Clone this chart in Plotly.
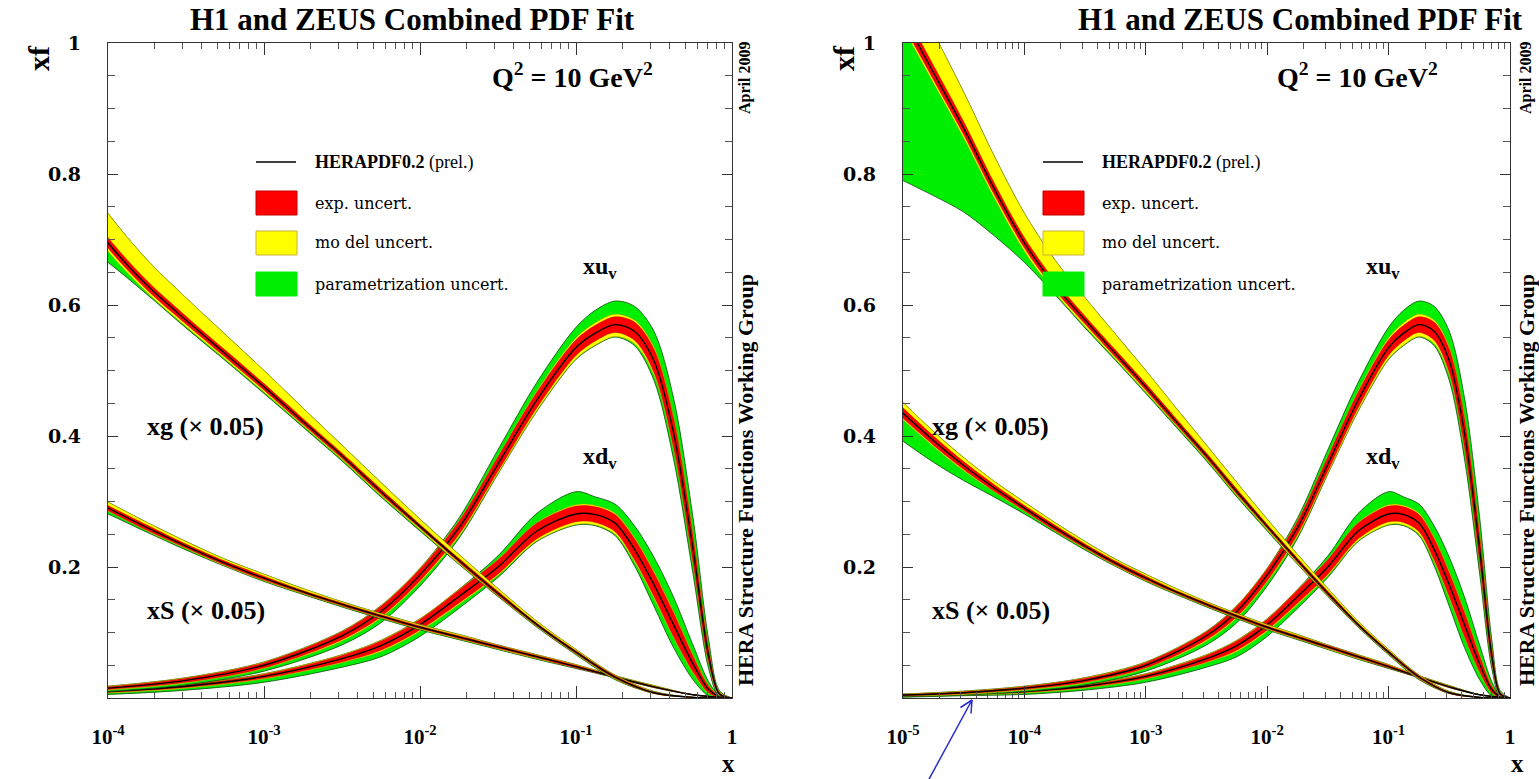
import plotly.graph_objects as go

# ---------------- data ----------------
# valence grid
XV = [1e-5, 3.16e-5, 1e-4, 3.16e-4, 1e-3, 3.16e-3, 5.62e-3, 1e-2, 1.78e-2, 3.16e-2,
      5.62e-2, 0.1, 0.133, 0.178, 0.237, 0.316, 0.422, 0.562, 0.708, 0.832, 1.0]

XUV_CEN = [0.0045, 0.008, 0.015, 0.027, 0.05, 0.095, 0.132, 0.188, 0.26, 0.357,
           0.455, 0.535, 0.557, 0.57, 0.56, 0.515, 0.405, 0.228, 0.065, 0.006, 0.0]
XUV_EXP = [0.001, 0.0015, 0.002, 0.003, 0.004, 0.006, 0.008, 0.009, 0.01, 0.011,
           0.012, 0.012, 0.012, 0.012, 0.014, 0.018, 0.022, 0.02, 0.01, 0.002, 0.0]
XUV_MOD_UP = [0.0005, 0.001, 0.001, 0.001, 0.001, 0.001, 0.001, 0.001, 0.001, 0.001,
              0.002, 0.003, 0.004, 0.004, 0.003, 0.003, 0.003, 0.003, 0.002, 0.001, 0.0]
XUV_MOD_DN = [0.0005, 0.001, 0.001, 0.001, 0.001, 0.002, 0.002, 0.002, 0.003, 0.003,
              0.004, 0.005, 0.006, 0.006, 0.005, 0.004, 0.004, 0.003, 0.002, 0.001, 0.0]
XUV_PAR_UP = [0.0, 0.0, 0.0, 0.0, 0.0, 0.0, 0.0, 0.0, 0.004, 0.01,
              0.013, 0.016, 0.019, 0.02, 0.021, 0.024, 0.028, 0.025, 0.012, 0.002, 0.0]
XUV_PAR_DN = [0.001, 0.001, 0.002, 0.003, 0.004, 0.006, 0.007, 0.006, 0.003, 0.001,
              0.001, 0.001, 0.001, 0.001, 0.003, 0.008, 0.014, 0.015, 0.008, 0.002, 0.0]

XDV_CEN = [0.003, 0.006, 0.01, 0.018, 0.033, 0.06, 0.08, 0.112, 0.155, 0.2,
           0.255, 0.281, 0.28, 0.267, 0.227, 0.173, 0.112, 0.052, 0.013, 0.002, 0.0]
XDV_EXP = [0.0008, 0.001, 0.0015, 0.002, 0.003, 0.005, 0.007, 0.008, 0.01, 0.011,
           0.012, 0.012, 0.012, 0.013, 0.016, 0.018, 0.018, 0.012, 0.005, 0.001, 0.0]
XDV_MOD_UP = [0.0005, 0.0005, 0.001, 0.001, 0.001, 0.001, 0.001, 0.001, 0.001, 0.001,
              0.001, 0.002, 0.002, 0.002, 0.002, 0.002, 0.002, 0.002, 0.001, 0.0, 0.0]
XDV_MOD_DN = [0.0005, 0.0005, 0.001, 0.001, 0.001, 0.001, 0.002, 0.002, 0.002, 0.002,
              0.003, 0.004, 0.004, 0.004, 0.003, 0.003, 0.002, 0.002, 0.001, 0.0, 0.0]
XDV_PAR_UP = [0.0, 0.0, 0.0, 0.0, 0.0, 0.0, 0.0, 0.0, 0.0, 0.005,
              0.014, 0.02, 0.013, 0.014, 0.018, 0.022, 0.022, 0.015, 0.006, 0.001, 0.0]
XDV_PAR_DN = [0.0005, 0.001, 0.002, 0.003, 0.005, 0.007, 0.008, 0.008, 0.006, 0.003,
              0.001, 0.001, 0.001, 0.002, 0.006, 0.012, 0.015, 0.01, 0.004, 0.001, 0.0]

# gluon and sea (x 0.05), quarter-decade grid
XGS = [1e-5, 1.78e-5, 3.16e-5, 5.62e-5, 1e-4, 1.78e-4, 3.16e-4, 5.62e-4, 1e-3, 1.78e-3,
       3.16e-3, 5.62e-3, 1e-2, 1.78e-2, 3.16e-2, 5.62e-2, 0.1, 0.178, 0.316, 0.562, 1.0]

XG_CEN = [1.04, 0.955, 0.87, 0.778, 0.695, 0.63, 0.577, 0.526, 0.475, 0.422,
          0.37, 0.315, 0.262, 0.21, 0.16, 0.112, 0.07, 0.032, 0.008, 0.001, 0.0]
XG_EXP = [0.012, 0.011, 0.01, 0.009, 0.008, 0.007, 0.006, 0.0055, 0.005, 0.0045,
          0.004, 0.004, 0.003, 0.003, 0.003, 0.002, 0.002, 0.002, 0.001, 0.0, 0.0]
XG_MOD_UP = [0.055, 0.05, 0.045, 0.041, 0.037, 0.032, 0.028, 0.024, 0.02, 0.016,
             0.012, 0.01, 0.008, 0.006, 0.004, 0.003, 0.002, 0.001, 0.001, 0.0, 0.0]
XG_MOD_DN = [0.005, 0.005, 0.005, 0.005, 0.005, 0.004, 0.004, 0.003, 0.003, 0.002,
             0.002, 0.002, 0.002, 0.002, 0.001, 0.001, 0.001, 0.001, 0.0, 0.0, 0.0]
XG_PAR_UP = [0.0] * 21
XG_PAR_DN = [0.233, 0.172, 0.113, 0.058, 0.017, 0.003, 0.002, 0.002, 0.002, 0.002,
             0.002, 0.002, 0.002, 0.001, 0.001, 0.001, 0.001, 0.001, 0.0, 0.0, 0.0]

XS_CEN = [0.435, 0.393, 0.355, 0.321, 0.29, 0.26, 0.232, 0.206, 0.183, 0.162,
          0.143, 0.125, 0.108, 0.093, 0.078, 0.063, 0.048, 0.032, 0.017, 0.005, 0.0]
XS_EXP = [0.008, 0.007, 0.006, 0.005, 0.004, 0.004, 0.003, 0.003, 0.003, 0.002,
          0.002, 0.002, 0.002, 0.002, 0.002, 0.002, 0.002, 0.001, 0.001, 0.0, 0.0]
XS_MOD_UP = [0.008, 0.007, 0.006, 0.005, 0.005, 0.004, 0.004, 0.003, 0.003, 0.003,
             0.002, 0.002, 0.002, 0.002, 0.001, 0.001, 0.001, 0.001, 0.001, 0.0, 0.0]
XS_MOD_DN = [0.002, 0.002, 0.002, 0.001, 0.001, 0.001, 0.001, 0.001, 0.001, 0.001,
             0.001, 0.001, 0.001, 0.001, 0.001, 0.001, 0.0, 0.0, 0.0, 0.0, 0.0]
XS_PAR_UP = [0.0] * 21
XS_PAR_DN = [0.033, 0.024, 0.015, 0.008, 0.004, 0.002, 0.002, 0.001, 0.001, 0.001,
             0.001, 0.001, 0.001, 0.001, 0.001, 0.001, 0.001, 0.0, 0.0, 0.0, 0.0]

PDFS = [
    (XV, XDV_CEN, XDV_EXP, XDV_MOD_UP, XDV_MOD_DN, XDV_PAR_UP, XDV_PAR_DN),
    (XV, XUV_CEN, XUV_EXP, XUV_MOD_UP, XUV_MOD_DN, XUV_PAR_UP, XUV_PAR_DN),
    (XGS, XS_CEN, XS_EXP, XS_MOD_UP, XS_MOD_DN, XS_PAR_UP, XS_PAR_DN),
    (XGS, XG_CEN, XG_EXP, XG_MOD_UP, XG_MOD_DN, XG_PAR_UP, XG_PAR_DN),
]

X_TICKS_L = [1e-4, 1e-3, 1e-2, 1e-1, 1]
X_TICKS_R = [1e-5, 1e-4, 1e-3, 1e-2, 1e-1, 1]
X_TICKTEXT = {1e-5: "10<sup>-5</sup>", 1e-4: "10<sup>-4</sup>", 1e-3: "10<sup>-3</sup>",
              1e-2: "10<sup>-2</sup>", 1e-1: "10<sup>-1</sup>", 1: "1"}
Y_TICKS = [0.2, 0.4, 0.6, 0.8, 1.0]
Y_TICKTEXT = ["0.2", "0.4", "0.6", "0.8", "1"]

RED = "#ff0000"
YELLOW = "#ffff00"
GREEN = "#00ee00"

W, H = 1539, 779


def pxx(x):
    return x / W


def pxy(y):
    return 1 - y / H


fig = go.Figure()

for xa, ya in (("x", "y"), ("x2", "y2")):
    for (xs, cen, ex, mu, md, pu, pd_) in PDFS:
        red_hi = [c + e for c, e in zip(cen, ex)]
        red_lo = [c - e for c, e in zip(cen, ex)]
        yel_hi = [r + m for r, m in zip(red_hi, mu)]
        yel_lo = [r - m for r, m in zip(red_lo, md)]
        grn_hi = [r + m for r, m in zip(yel_hi, pu)]
        grn_lo = [r - m for r, m in zip(yel_lo, pd_)]
        bands = [
            (grn_lo, grn_hi, GREEN, "#0b4a0b", 0.8),
            (yel_lo, yel_hi, YELLOW, "#b09a00", 0.5),
            (red_lo, red_hi, RED, "#a00000", 0.4),
        ]
        for lo, hi, fc, lc, lw in bands:
            fig.add_trace(go.Scatter(x=xs, y=lo, mode="lines", xaxis=xa, yaxis=ya,
                                     line=dict(color=lc, width=lw, shape="spline", smoothing=0.9),
                                     showlegend=False, hoverinfo="skip"))
            fig.add_trace(go.Scatter(x=xs, y=hi, mode="lines", xaxis=xa, yaxis=ya,
                                     fill="tonexty", fillcolor=fc,
                                     line=dict(color=lc, width=lw, shape="spline", smoothing=0.9),
                                     showlegend=False, hoverinfo="skip"))
        fig.add_trace(go.Scatter(x=xs, y=cen, mode="lines", xaxis=xa, yaxis=ya,
                                 line=dict(color="black", width=1.4, shape="spline", smoothing=0.9),
                                 showlegend=False, hoverinfo="skip"))

TICKFONT_X = dict(family="Liberation Serif", size=21, color="black", weight="bold")
TICKFONT_Y = dict(family="DejaVu Serif", size=19, color="black", weight="bold")
minor_x = [k * 10.0 ** e for e in range(-5, 0) for k in range(2, 10)]
minor_y = [0.05, 0.1, 0.15, 0.25, 0.3, 0.35, 0.45, 0.5, 0.55, 0.65, 0.7, 0.75, 0.85, 0.9, 0.95]


def xaxis_cfg(dom, ticks, rng, anchor):
    return dict(type="log", domain=dom, range=rng, anchor=anchor, tickmode="array",
                tickvals=ticks, ticktext=[X_TICKTEXT[t] for t in ticks], ticks="inside",
                ticklen=12, tickcolor="#333", showline=True, linecolor="#333", linewidth=1.2,
                mirror="ticks", showgrid=False, zeroline=False, tickfont=TICKFONT_X,
                ticklabelstandoff=20, automargin=False,
                minor=dict(tickmode="array", tickvals=minor_x, ticks="inside", ticklen=6,
                           tickcolor="#555", showgrid=False))


def yaxis_cfg(anchor):
    return dict(domain=[pxy(698), pxy(43)], range=[0, 1], anchor=anchor, tickmode="array",
                tickvals=Y_TICKS, ticktext=Y_TICKTEXT, ticks="inside", ticklen=10,
                tickcolor="#333", showline=True, linecolor="#333", linewidth=1.2,
                mirror="ticks", showgrid=False, zeroline=False, tickfont=TICKFONT_Y,
                ticklabelstandoff=22, automargin=False,
                minor=dict(tickmode="array", tickvals=minor_y, ticks="inside", ticklen=7,
                           tickcolor="#555", showgrid=False))


fig.update_layout(
    width=W, height=H, margin=dict(l=0, r=0, t=0, b=0, pad=0, autoexpand=False),
    paper_bgcolor="white", plot_bgcolor="white", showlegend=False,
    xaxis=xaxis_cfg([pxx(108), pxx(732)], X_TICKS_L, [-4, 0], "y"),
    yaxis=yaxis_cfg("x"),
    xaxis2=xaxis_cfg([pxx(903), pxx(1510)], X_TICKS_R, [-5, 0], "y2"),
    yaxis2=yaxis_cfg("x2"),
)

ann = []
shapes = []


def text(x, y, s, size, family="Liberation Serif", weight="bold", xanchor="center",
         yanchor="middle", angle=0, color="black"):
    ann.append(dict(x=pxx(x), y=pxy(y), xref="paper", yref="paper", text=s, showarrow=False,
                    xanchor=xanchor, yanchor=yanchor, textangle=angle,
                    font=dict(family=family, size=size, color=color, weight=weight)))


for off in (0, 1):
    # title
    text(412 if off == 0 else 1300, 20, "H1 and ZEUS Combined PDF Fit", 31)
    # axis labels
    text(38 if off == 0 else 843, 58, "xf", 30, angle=-90)
    text(728 if off == 0 else 1517, 779, "x", 25, yanchor="bottom")
    # side texts
    sx = 745 if off == 0 else 1526
    text(sx, 78, "April 2009", 16, angle=-90)
    text(sx, 480, "HERA Structure Functions Working Group", 22, angle=-90)
    # Q2
    text(572 if off == 0 else 1357, 76, "Q<sup>2</sup> = 10 GeV<sup>2</sup>", 28)
    # curve labels
    lx = 600 if off == 0 else 1383
    text(lx, 268, "xu<sub>v</sub>", 24)
    text(lx, 458, "xd<sub>v</sub>", 24)
    gx = 145 if off == 0 else 930
    text(gx, 427, "xg (× 0.05)", 26, xanchor="left")
    text(gx, 610, "xS (× 0.05)", 26, xanchor="left")
    # legend
    lx0 = 256 if off == 0 else 1043
    shapes.append(dict(type="line", xref="paper", yref="paper", x0=pxx(lx0), x1=pxx(lx0 + 40),
                       y0=pxy(162), y1=pxy(162), line=dict(color="black", width=1.5)))
    for yy, col, bc in ((203, RED, "#c00000"), (243, YELLOW, "#c8b040"), (284, GREEN, GREEN)):
        shapes.append(dict(type="rect", xref="paper", yref="paper", x0=pxx(lx0), x1=pxx(lx0 + 41),
                           y0=pxy(yy + 12), y1=pxy(yy - 12), fillcolor=col,
                           line=dict(color=bc, width=1)))
    tx = lx0 + 57
    text(tx, 162, "<b>HERAPDF0.2</b> <span style='font-weight:normal'>(prel.)</span>", 18,
         xanchor="left", weight="normal")
    text(tx, 203, "exp. uncert.", 16, family="DejaVu Serif", weight="normal", xanchor="left")
    text(tx, 243, "mo del uncert.", 16, family="DejaVu Serif", weight="normal", xanchor="left")
    text(tx, 284, "parametrization uncert.", 16, family="DejaVu Serif", weight="normal",
         xanchor="left")

# blue arrow (annotation mark on the right panel)
BLUE = "#2a2ad0"
shapes.append(dict(type="line", xref="paper", yref="paper", x0=pxx(928), y0=pxy(781),
                   x1=pxx(972), y1=pxy(700), line=dict(color=BLUE, width=1.5)))
shapes.append(dict(type="line", xref="paper", yref="paper", x0=pxx(972), y0=pxy(700),
                   x1=pxx(960.5), y1=pxy(707.5), line=dict(color=BLUE, width=1.5)))
shapes.append(dict(type="line", xref="paper", yref="paper", x0=pxx(972), y0=pxy(700),
                   x1=pxx(971), y1=pxy(713.5), line=dict(color=BLUE, width=1.5)))

fig.update_layout(annotations=ann, shapes=shapes)
fig.write_html("out.html")
